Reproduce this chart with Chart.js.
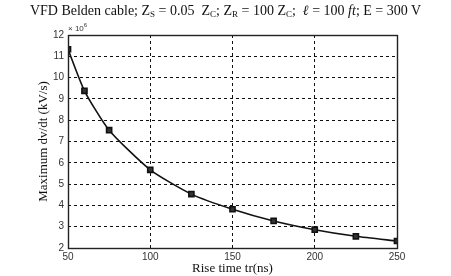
<!DOCTYPE html>
<html>
<head>
<meta charset="utf-8">
<script src="https://cdn.jsdelivr.net/npm/chart.js@4.4.1/dist/chart.umd.min.js"></script>
<style>
  html, body { margin: 0; padding: 0; background: #fff; }
  #wrap { position: relative; width: 451px; height: 276px; }
  #title { position: absolute; left: 0; top: 3px; width: 451px; text-align: center;
           font-family: "Liberation Serif", "Times New Roman", serif; font-size: 14px; color: #111; white-space: nowrap; }
  #title sub { font-size: 9px; vertical-align: -2px; line-height: 0; }
  #exp { position: absolute; left: 68px; top: 24px; font-family: "Liberation Sans", Arial, sans-serif;
         font-size: 8px; color: #333; }
  #exp sup { font-size: 6px; vertical-align: 4px; line-height: 0; }
</style>
</head>
<body>
<div id="wrap">
  <canvas id="c" width="451" height="276"></canvas>
  <div id="title">VFD Belden cable; Z<sub>S</sub> = 0.05&nbsp; Z<sub>C</sub>; Z<sub>R</sub> = 100 Z<sub>C</sub>;&nbsp; <i>ℓ</i> = 100 <i>ft</i>; E = 300 V</div>
  <div id="exp">× 10<sup>6</sup></div>
</div>
<script>
const riseTimes = [50, 60, 75, 100, 125, 150, 175, 200, 225, 250];
const maxDvdt = [11.33, 9.38, 7.53, 5.67, 4.53, 3.82, 3.27, 2.86, 2.55, 2.33];
const xTicks = [50, 100, 150, 200, 250];
const yTicks = [2, 3, 4, 5, 6, 7, 8, 9, 10, 11, 12];

const frame = {
  id: 'frame',
  afterDatasetsDraw(chart) {
    const a = chart.chartArea, ctx = chart.ctx;
    ctx.save();
    ctx.strokeStyle = '#222';
    ctx.lineWidth = 1.4;
    ctx.strokeRect(a.left + 0.5, a.top + 0.5, a.right - a.left, a.bottom - a.top);
    ctx.restore();
  }
};

new Chart(document.getElementById('c'), {
  type: 'line',
  data: {
    datasets: [{
      data: riseTimes.map((x, i) => ({ x: x, y: maxDvdt[i] })),
      borderColor: '#111',
      backgroundColor: '#222',
      borderWidth: 1.6,
      pointStyle: 'rect',
      pointRadius: 3.6,
      pointBorderColor: '#111',
      pointBackgroundColor: '#333',
      tension: 0.2,
      fill: false
    }]
  },
  options: {
    responsive: false,
    animation: false,
    layout: { padding: { left: 0, right: 54, top: 35, bottom: 0 } },
    plugins: { legend: { display: false }, tooltip: { enabled: false } },
    scales: {
      x: {
        type: 'linear', min: 50, max: 250,
        afterFit(s) { s.height = 28; },
        afterBuildTicks(s) { s.ticks = xTicks.map(v => ({ value: v })); },
        grid: { color: '#111', lineWidth: 1, drawTicks: false, borderDash: [3, 3] },
        border: { display: false, dash: [3, 3] },
        ticks: { padding: 3, color: '#333', font: { family: 'Liberation Sans', size: 10 } },
        title: { display: true, text: 'Rise time tr(ns)', color: '#111', padding: { top: 0, bottom: 0 },
                 font: { family: 'Liberation Serif', size: 13 } }
      },
      y: {
        type: 'linear', min: 2, max: 12,
        afterFit(s) { s.width = 68; },
        afterBuildTicks(s) { s.ticks = yTicks.map(v => ({ value: v })); },
        grid: { color: '#111', lineWidth: 1, drawTicks: false, borderDash: [3, 3] },
        border: { display: false, dash: [3, 3] },
        ticks: { padding: 4, color: '#333', font: { family: 'Liberation Sans', size: 10 } },
        title: { display: true, text: 'Maximum dv/dt (kV/s)', color: '#111', padding: { top: 36, bottom: 0 },
                 font: { family: 'Liberation Serif', size: 13 } }
      }
    }
  },
  plugins: [frame]
});
</script>
</body>
</html>
